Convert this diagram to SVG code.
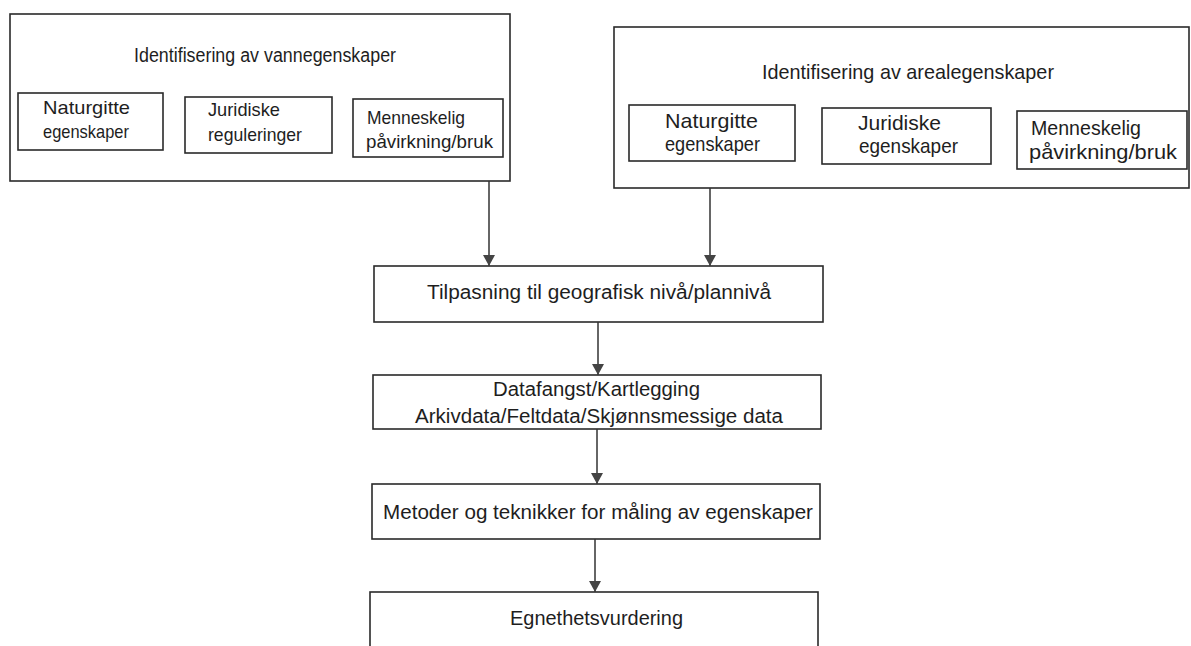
<svg xmlns="http://www.w3.org/2000/svg" width="1191" height="646" viewBox="0 0 1191 646">
<style>
.box{fill:none;stroke:#2a2a2a;stroke-width:1.6}
.t{font-family:"Liberation Sans",Arial,sans-serif;fill:#1e1e1e;font-size:19px}
.tl{font-size:19.5px}
.tr{font-size:21px}
.tc{font-size:20px}
.conn{stroke:#333;stroke-width:1.5;fill:none;marker-end:url(#ah)}
</style>
<defs>
<marker id="ah" markerWidth="11" markerHeight="12" refX="11" refY="6" orient="auto" markerUnits="userSpaceOnUse" viewBox="0 0 11 12">
<path d="M0,0 L11,6 L0,12 Z" fill="#444"/>
</marker>
</defs>
<rect width="1191" height="646" fill="#fff"/>

<g id="vann">
<rect class="box" x="10" y="14" width="500" height="167"/>
<text class="t tl" x="134" y="62" textLength="262" lengthAdjust="spacingAndGlyphs">Identifisering av vannegenskaper</text>
</g>
<g id="vann-naturgitte">
<rect class="box" x="18" y="93" width="145" height="57"/>
<text class="t" x="43" y="114" textLength="87" lengthAdjust="spacingAndGlyphs">Naturgitte</text>
<text class="t" x="43" y="138" textLength="86" lengthAdjust="spacingAndGlyphs">egenskaper</text>
</g>
<g id="vann-juridiske">
<rect class="box" x="185" y="97" width="147" height="56"/>
<text class="t" x="208" y="116" textLength="72" lengthAdjust="spacingAndGlyphs">Juridiske</text>
<text class="t" x="208" y="141" textLength="94" lengthAdjust="spacingAndGlyphs">reguleringer</text>
</g>
<g id="vann-menneskelig">
<rect class="box" x="353" y="99" width="150" height="58"/>
<text class="t" x="367" y="124" textLength="98" lengthAdjust="spacingAndGlyphs">Menneskelig</text>
<text class="t" x="366" y="148" textLength="127" lengthAdjust="spacingAndGlyphs">påvirkning/bruk</text>
</g>

<g id="areal">
<rect class="box" x="614" y="27" width="575" height="161"/>
<text class="t tr" x="762" y="79" textLength="292" lengthAdjust="spacingAndGlyphs">Identifisering av arealegenskaper</text>
</g>
<g id="areal-naturgitte">
<rect class="box" x="629" y="105" width="166" height="56"/>
<text class="t tr" x="665" y="128" textLength="93" lengthAdjust="spacingAndGlyphs">Naturgitte</text>
<text class="t tr" x="665" y="151" textLength="95" lengthAdjust="spacingAndGlyphs">egenskaper</text>
</g>
<g id="areal-juridiske">
<rect class="box" x="822" y="108" width="169" height="56"/>
<text class="t tr" x="858" y="130" textLength="83" lengthAdjust="spacingAndGlyphs">Juridiske</text>
<text class="t tr" x="859" y="153" textLength="99" lengthAdjust="spacingAndGlyphs">egenskaper</text>
</g>
<g id="areal-menneskelig">
<rect class="box" x="1017" y="111" width="170" height="58"/>
<text class="t tr" x="1031" y="135" textLength="110" lengthAdjust="spacingAndGlyphs">Menneskelig</text>
<text class="t tr" x="1029" y="159" textLength="148" lengthAdjust="spacingAndGlyphs">påvirkning/bruk</text>
</g>

<g id="tilpasning">
<rect class="box" x="374" y="266" width="449" height="56"/>
<text class="t tc" x="427" y="299" textLength="344" lengthAdjust="spacingAndGlyphs">Tilpasning til geografisk nivå/plannivå</text>
</g>
<g id="datafangst">
<rect class="box" x="373" y="375" width="448" height="54"/>
<text class="t tc" x="493" y="396" textLength="207" lengthAdjust="spacingAndGlyphs">Datafangst/Kartlegging</text>
<text class="t tc" x="415" y="423" textLength="368" lengthAdjust="spacingAndGlyphs">Arkivdata/Feltdata/Skjønnsmessige data</text>
</g>
<g id="metoder">
<rect class="box" x="372" y="484" width="448" height="55"/>
<text class="t tc" x="383" y="519" textLength="430" lengthAdjust="spacingAndGlyphs">Metoder og teknikker for måling av egenskaper</text>
</g>
<g id="egnethet">
<rect class="box" x="370" y="592" width="448" height="60"/>
<text class="t tc" x="510" y="625" textLength="173" lengthAdjust="spacingAndGlyphs">Egnethetsvurdering</text>
</g>

<g id="connectors">
<line class="conn" x1="489" y1="181" x2="489" y2="266"/>
<line class="conn" x1="710" y1="188" x2="710" y2="266"/>
<line class="conn" x1="598" y1="322" x2="598" y2="375"/>
<line class="conn" x1="597" y1="429" x2="597" y2="484"/>
<line class="conn" x1="595" y1="539" x2="595" y2="592"/>
</g>
</svg>
